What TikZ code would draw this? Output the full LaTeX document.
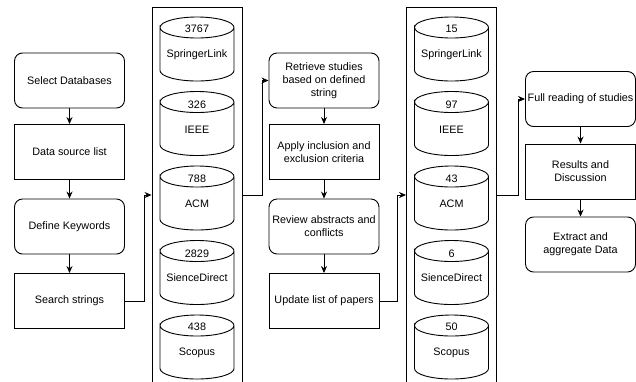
\documentclass[tikz,border=0pt]{standalone}
\usepackage{fontspec}
\setmainfont{Liberation Sans}
\usetikzlibrary{arrows.meta}

\tikzset{
  proc/.style={draw, rectangle, minimum width=110pt, minimum height=55pt, inner xsep=0pt, align=center},
  procr/.style={proc, rounded corners=8pt},
  db/.style={inner sep=0pt, align=center},
  panel/.style={draw, rectangle, minimum width=90pt, minimum height=376pt},
  flow/.style={-{Stealth[length=7pt,width=6pt]}}
}

\begin{document}
\begin{tikzpicture}[x=1pt, y=-1pt, line width=0.9pt, font=\fontsize{10.8}{13}\selectfont]
    \useasboundingbox (0,0) rectangle (636,381);

    % First column: planning steps
    \node[procr] (sel) at (69.5,80.5) {Select Databases};
    \node[proc]  (src) at (69.5,152) {Data source list};
    \node[procr] (key) at (69.5,226.5) {Define Keywords};
    \node[proc]  (str) at (69.5,301) {Search strings};

    % Databases found by the search
    \node[panel] (dbA) at (197,195) {};
    \node[db] (aSpr) at (197,42.5) {3767\\[11.5pt]SpringerLink};
    \node[db] (aIee) at (197,117) {326\\[11.5pt]IEEE};
    \node[db] (aAcm) at (197,191.5) {788\\[11.5pt]ACM};
    \node[db] (aSci) at (197,266) {2829\\[11.5pt]SienceDirect};
    \node[db] (aSco) at (197,340.5) {438\\[11.5pt]Scopus};

    % Second column: selection steps
    \node[procr] (ret) at (324,80.5) {Retrieve studies\\based on defined\\string};
    \node[proc]  (inc) at (324,152) {Apply inclusion and\\exclusion criteria};
    \node[procr] (rev) at (324,226.5) {Review abstracts and\\conflicts};
    \node[proc]  (upd) at (324,301) {Update list of papers};

    % Databases after the selection
    \node[panel] (dbB) at (451.5,195) {};
    \node[db] (bSpr) at (451.5,42.5) {15\\[11.5pt]SpringerLink};
    \node[db] (bIee) at (451.5,117) {97\\[11.5pt]IEEE};
    \node[db] (bAcm) at (451.5,191.5) {43\\[11.5pt]ACM};
    \node[db] (bSci) at (451.5,266) {6\\[11.5pt]SienceDirect};
    \node[db] (bSco) at (451.5,340.5) {50\\[11.5pt]Scopus};

    % Cylinder outlines round the database labels
    \foreach \c in {aSpr,aIee,aAcm,aSci,aSco,bSpr,bIee,bAcm,bSci,bSco}
        \draw ([xshift=-37pt, yshift=15pt]\c.center)
              arc[start angle=180, end angle=-180, x radius=37pt, y radius=10.5pt]
              -- ([xshift=-37pt, yshift=-28pt]\c.center)
              arc[start angle=180, end angle=360, x radius=37pt, y radius=10.5pt]
              -- ([xshift=37pt, yshift=15pt]\c.center);

    % Third column: reporting steps
    \node[procr] (ful) at (580.5,99) {Full reading of studies};
    \node[proc]  (res) at (580.5,171.5) {Results and\\Discussion};
    \node[procr] (ext) at (580.5,244.5) {Extract and\\aggregate Data};

    % Arrows inside the columns
    \draw[flow] (sel) -- (src);
    \draw[flow] (src) -- (key);
    \draw[flow] (key) -- (str);
    \draw[flow] (ret) -- (inc);
    \draw[flow] (inc) -- (rev);
    \draw[flow] (rev) -- (upd);
    \draw[flow] (ful) -- (res);
    \draw[flow] (res) -- (ext);

    % Arrows between the columns
    \draw[flow] (str.east) -- ++(19,0) |- (dbA.west);
    \draw[flow] (dbA.east) -- ++(20,0) |- (ret.west);
    \draw[flow] (upd.east) -- ++(18,0) |- (dbB.west);
    \draw[flow] (dbB.east) -- ++(21,0) |- (ful.west);

\end{tikzpicture}
\end{document}
